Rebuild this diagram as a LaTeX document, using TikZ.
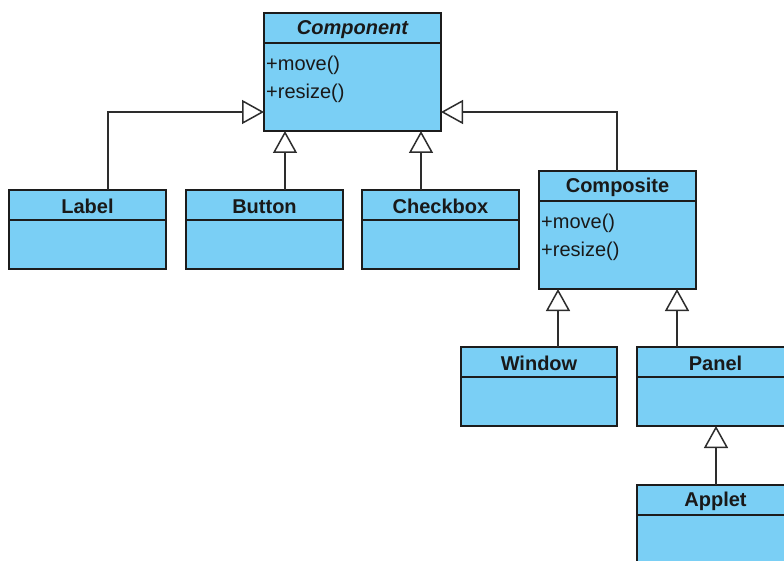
\documentclass[tikz,border=0pt]{standalone}
\usepackage{fontspec}
\setmainfont{Liberation Sans}
\usetikzlibrary{arrows.meta}

\definecolor{clsfill}{RGB}{122,207,245}
\definecolor{clsline}{RGB}{28,28,28}
\definecolor{wire}{RGB}{45,45,45}

\tikzset{
  classbox/.style={draw=clsline, fill=clsfill, line width=1.5pt, inner sep=0pt, outer sep=0pt},
  classline/.style={draw=clsline, line width=1.5pt},
  classtitle/.style={inner sep=0pt, font=\fontsize{20}{24}\selectfont\bfseries, text=black!90},
  method/.style={inner sep=0pt, anchor=west, font=\fontsize{20}{24}\selectfont, text=black!90},
  gen/.style={draw=wire, line width=1.5pt,
    -{Triangle[open, fill=white, length=22pt, width=24pt]}},
}

% #1 id, #2 x, #3 y, #4 width, #5 height, #6 title
\newcommand{\umlclass}[6]{%
  \node[classbox, minimum width=#4pt, minimum height=#5pt, anchor=north west] (#1) at (#2,#3) {};
  \draw[classline] ([yshift=-30pt]#1.north west) -- ([yshift=-30pt]#1.north east);
  \node[classtitle] (#1-title) at ([yshift=-16.5pt]#1.north) {#6};
}
% operations compartment of a class
\newcommand{\umlops}[1]{%
  \node[method] (#1-op1) at ([xshift=2pt,yshift=-52pt]#1.north west) {+move()};
  \node[method] (#1-op2) at ([xshift=2pt,yshift=-80pt]#1.north west) {+resize()};
}

\begin{document}
\begin{tikzpicture}[x=1pt, y=-1pt]
  \useasboundingbox (0,0) rectangle (784,561);
  \clip (0,0) rectangle (784,561);

  % classes
  \umlclass{comp}{264}{13}{177}{118}{\itshape Component}
  \umlops{comp}
  \umlclass{label}{9}{190}{157}{79}{Label}
  \umlclass{button}{186}{190}{157}{79}{Button}
  \umlclass{checkbox}{362}{190}{157}{79}{Checkbox}
  \umlclass{composite}{539}{171}{157}{118}{Composite}
  \umlops{composite}
  \umlclass{window}{461}{347}{156}{79}{Window}
  \umlclass{panel}{637}{347}{157}{79}{Panel}
  \umlclass{applet}{637}{485}{157}{79}{Applet}

  % generalisations
  \coordinate (label-top) at ([xshift=20.5pt]label.north);
  \coordinate (button-top) at ([xshift=20.5pt]button.north);
  \coordinate (checkbox-top) at ([xshift=-19.5pt]checkbox.north);
  \coordinate (composite-top) at ([xshift=-0.5pt]composite.north);
  \coordinate (window-top) at ([xshift=19pt]window.north);
  \coordinate (panel-top) at ([xshift=-38.5pt]panel.north);
  \coordinate (applet-top) at ([xshift=0.5pt]applet.north);
  \coordinate (comp-lhook) at ([yshift=-99pt]comp.north west);
  \coordinate (comp-rhook) at ([yshift=-99pt]comp.north east);

  \draw[gen] (label-top) |- (comp-lhook);
  \draw[gen] (button-top) -- (button-top |- comp.south);
  \draw[gen] (checkbox-top) -- (checkbox-top |- comp.south);
  \draw[gen] (composite-top) |- (comp-rhook);
  \draw[gen] (window-top) -- (window-top |- composite.south);
  \draw[gen] (panel-top) -- (panel-top |- composite.south);
  \draw[gen] (applet-top) -- (applet-top |- panel.south);
\end{tikzpicture}
\end{document}
